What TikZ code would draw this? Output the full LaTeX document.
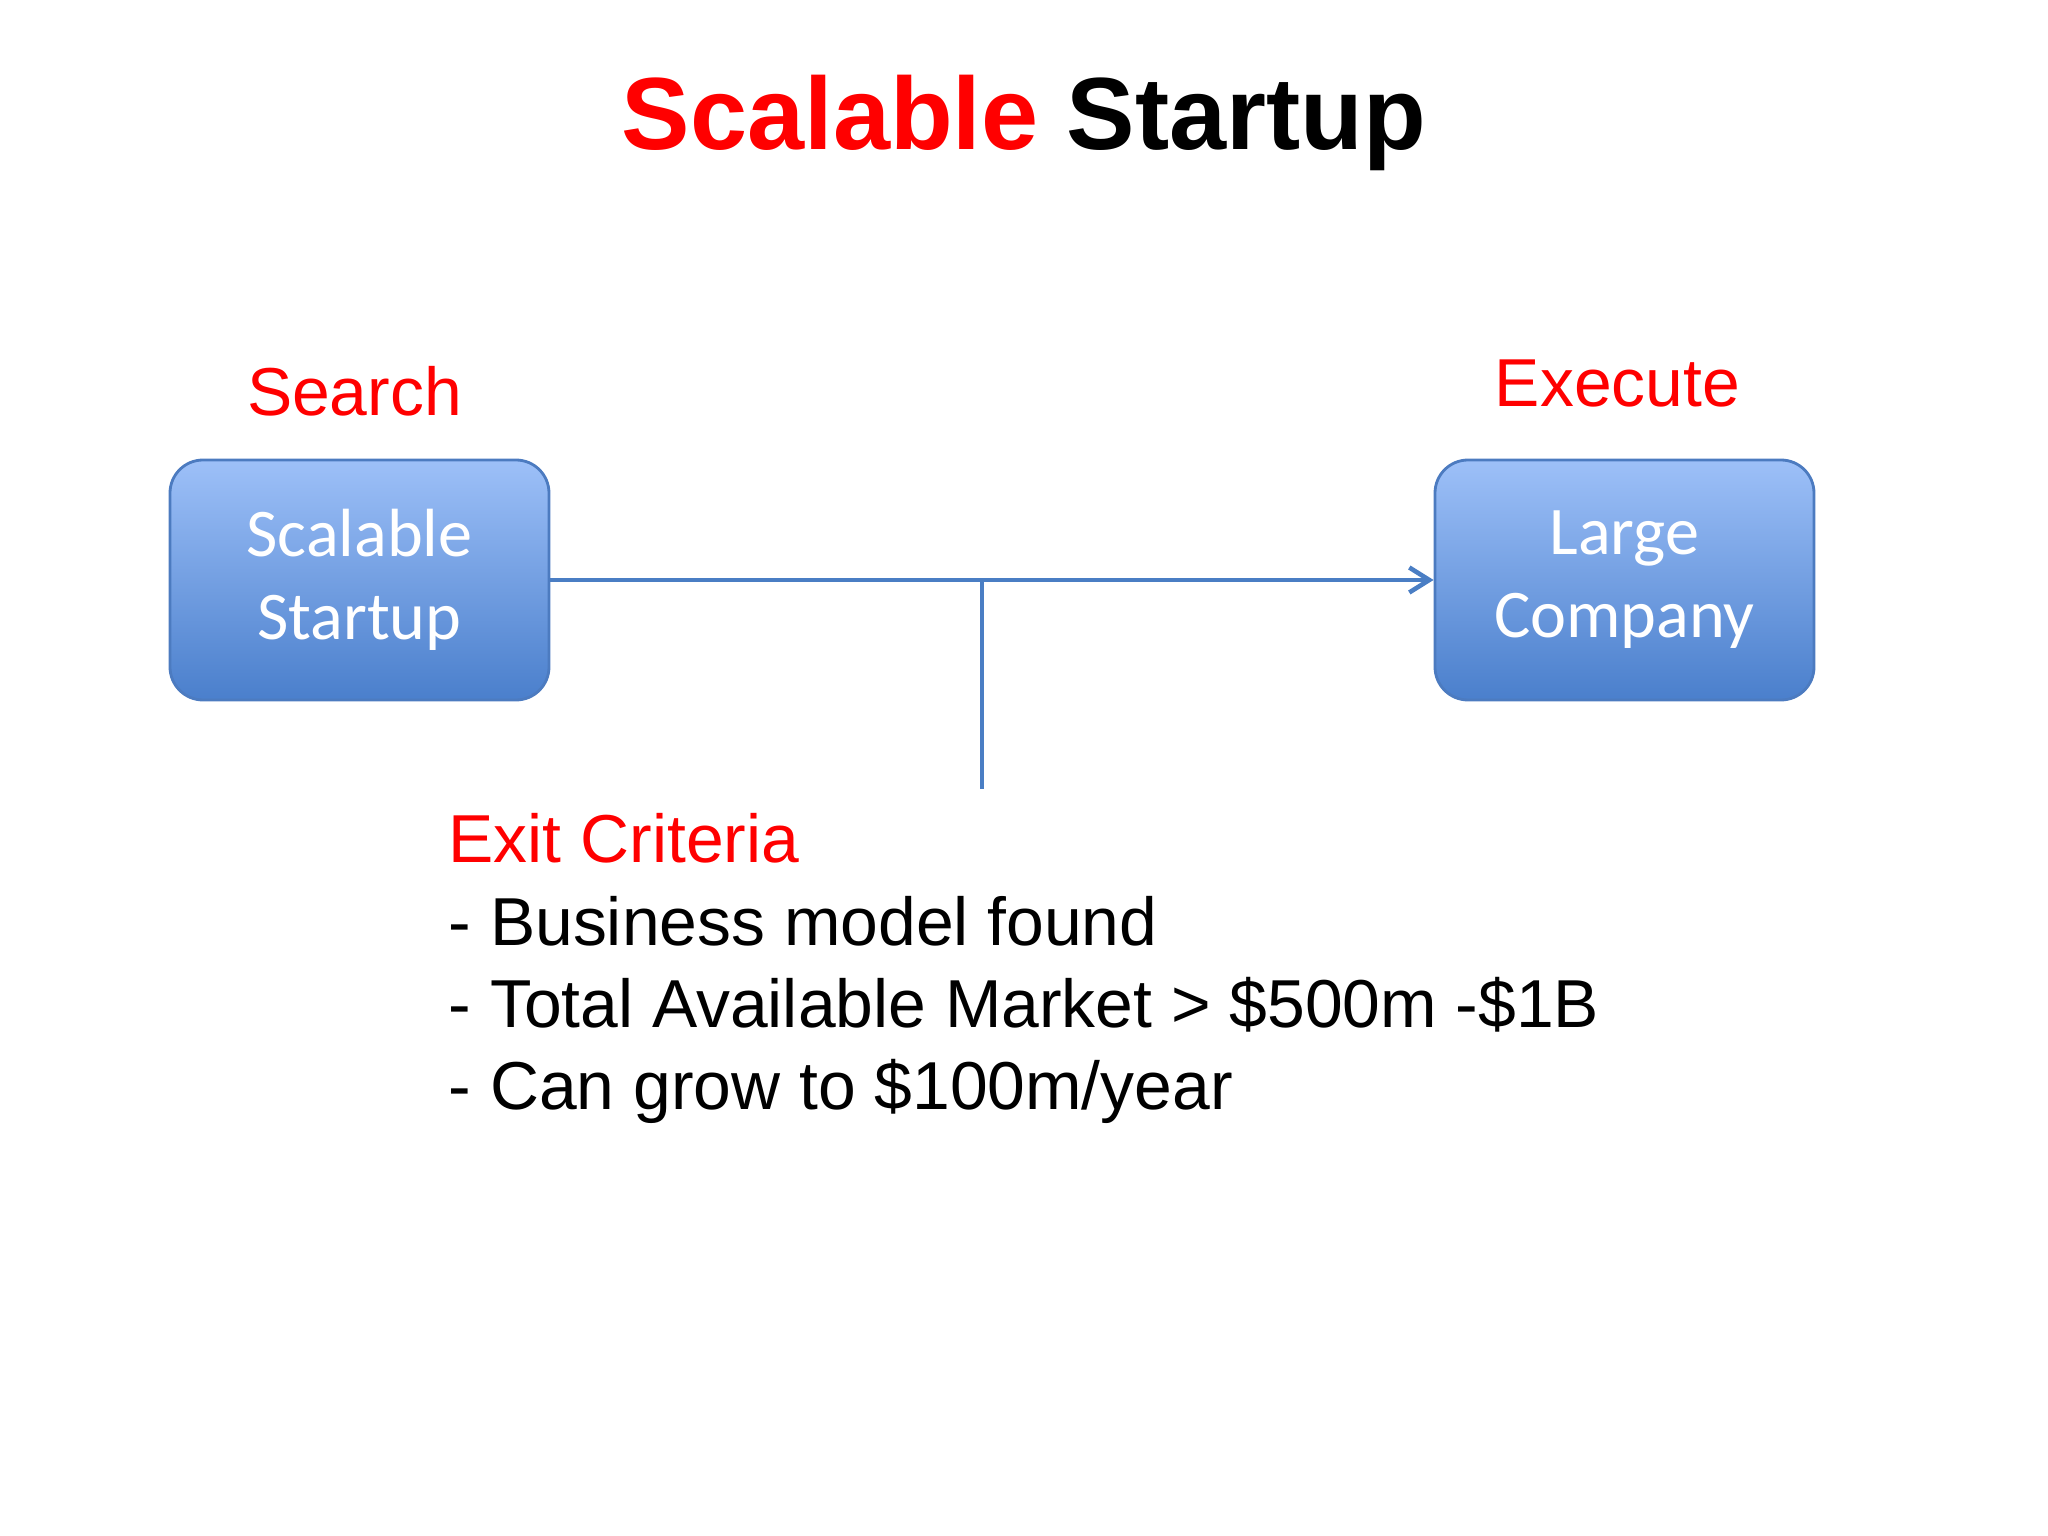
\documentclass[tikz,border=0pt]{standalone}
\usepackage{fontspec}
\setmainfont{Liberation Sans}
\newfontfamily\boxfont{Carlito}
\usetikzlibrary{positioning, arrows.meta}

\definecolor{titlered}{HTML}{FF0000}
\definecolor{boxtop}{HTML}{9DC0F8}
\definecolor{boxbottom}{HTML}{4A7FCC}
\definecolor{boxline}{HTML}{4C7BC0}
\definecolor{linkblue}{HTML}{4A7EC4}

\begin{document}
\begin{tikzpicture}[
    node distance = .45cm,
    stage/.style={
        draw=boxline, line width=.8pt, rounded corners=.33cm,
        top color=boxtop, bottom color=boxbottom,
        minimum width=3.79cm, minimum height=2.40cm, inner sep=0pt,
        align=center, text=white, font=\boxfont\fontsize{19.4}{23.6}\selectfont
    },
    phase/.style={
        text=titlered, inner sep=0pt, font=\fontsize{19.3}{23.4}\selectfont
    },
    link/.style={
        draw=linkblue, line width=1.3pt
    },
]
    \useasboundingbox (0,-15.36) rectangle (20.48,0);

    \node[anchor=base, inner sep=0pt, font=\bfseries\fontsize{29.2}{35}\selectfont]
        (title) at (10.24,-1.50) {\textcolor{titlered}{Scalable} Startup};

    \node[stage] (startup) at (3.595,-5.80) {Scalable\\Startup};
    \node[stage] (company) at (16.245,-5.80) {Large\\Company};
    \node[phase, above=.42cm of startup, xshift=-.05cm] (search) {Search};
    \node[phase, above=.51cm of company, xshift=-.07cm] (execute) {Execute};

    \draw[link, -{Straight Barb[length=.2cm, width=.25cm]}] (startup) -- (company);

    \coordinate (split) at (9.82,-5.80);
    \coordinate (drop) at (9.82,-7.89);
    \draw[link, line width=.9pt] (split) -- (drop);

    \node[anchor=north west, align=left, inner sep=0pt, font=\fontsize{19.3}{23.4}\selectfont]
        (criteria) at (4.48,-8.13) {\textcolor{titlered}{Exit Criteria}\\
        - Business model found\\
        - Total Available Market > \$500m -\$1B\\
        - Can grow to \$100m/year};

\end{tikzpicture}
\end{document}
